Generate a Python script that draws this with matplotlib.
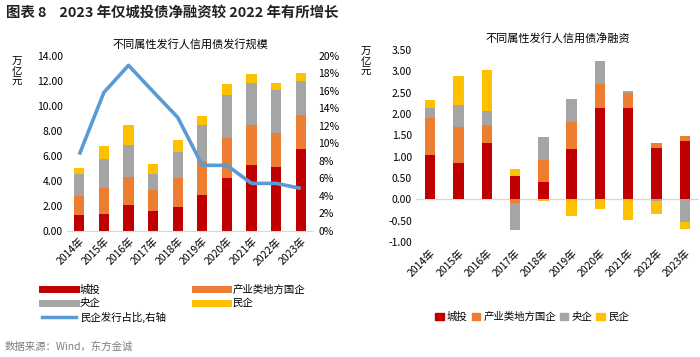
import matplotlib
matplotlib.use("Agg")
import matplotlib.pyplot as plt
from matplotlib.lines import Line2D
from matplotlib.patches import Patch
import matplotlib.ticker as mtick
import numpy as np

plt.rcParams['font.family'] = ['Noto Sans CJK SC', 'DejaVu Sans']

years = ['2014年', '2015年', '2016年', '2017年', '2018年', '2019年', '2020年', '2021年', '2022年', '2023年']
series_names = ['城投', '产业类地方国企', '央企', '民企']
colors = ['#C00000', '#ED7D31', '#A5A5A5', '#FFC000']
line_color = '#5B9BD5'

# Left: issuance scale (万亿元)
issue_chengtou = [1.25, 1.36, 2.08, 1.60, 1.92, 2.85, 4.24, 5.28, 5.09, 6.56]
issue_difang = [1.55, 2.08, 2.19, 1.63, 2.27, 2.72, 3.20, 3.17, 2.70, 2.69]
issue_yangqi = [1.76, 2.29, 2.56, 1.33, 2.13, 2.88, 3.44, 3.36, 3.46, 2.72]
issue_minqi = [0.45, 1.02, 1.62, 0.77, 0.93, 0.72, 0.88, 0.72, 0.59, 0.62]
minqi_share = [8.7, 15.8, 18.9, 15.9, 12.95, 7.47, 7.47, 5.41, 5.41, 4.84]  # %

# Right: net financing (万亿元)
net_chengtou = [1.05, 0.86, 1.33, 0.54, 0.41, 1.18, 2.15, 2.15, 1.20, 1.37]
net_difang = [0.86, 0.84, 0.41, -0.08, 0.52, 0.63, 0.56, 0.35, 0.12, 0.11]
net_yangqi = [0.22, 0.51, 0.33, -0.64, 0.53, 0.53, 0.54, 0.04, -0.04, -0.53]
net_minqi = [0.19, 0.67, 0.96, 0.16, -0.05, -0.38, -0.22, -0.48, -0.31, -0.17]

W, H = 700, 357
fig = plt.figure(figsize=(W / 100, H / 100), dpi=100)

def ax_px(l, t, r, b):
    return fig.add_axes([l / W, 1 - b / H, (r - l) / W, (b - t) / H])

fig.text(6 / W, 1 - 13 / H, '图表 8    2023 年仅城投债净融资较 2022 年有所增长',
         fontsize=10.4, fontweight='bold', va='center', ha='left', color='#222222')

# ---------------- Left chart ----------------
ax1 = ax_px(67, 55.7, 313, 230.7)
x = np.arange(len(years))
bw = 0.42
bottom = np.zeros(len(years))
issue = [issue_chengtou, issue_difang, issue_yangqi, issue_minqi]
for vals, c in zip(issue, colors):
    ax1.bar(x, vals, bw, bottom=bottom, color=c, zorder=2)
    bottom = bottom + np.array(vals)
ax1.set_ylim(0, 14)
ax1.set_xlim(-0.5, len(years) - 0.5)
ax1.set_yticks(np.arange(0, 14.01, 2))
ax1.yaxis.set_major_formatter(mtick.FormatStrFormatter('%.2f'))
ax1.set_xticks(x)
ax1.set_xticklabels(years, rotation=45, ha='right', rotation_mode='anchor', fontsize=7.5)
ax1.tick_params(axis='both', length=0, labelsize=7.5, pad=3)
ax1.tick_params(axis='x', pad=4)
for s in ['top', 'right', 'left']:
    ax1.spines[s].set_visible(False)
ax1.spines['bottom'].set_color('#D9D9D9')
ax1.set_title('不同属性发行人信用债发行规模', fontsize=8, pad=6)

ax1r = ax1.twinx()
ax1r.plot(x, minqi_share, color=line_color, lw=2.6, zorder=3, solid_capstyle='butt')
ax1r.set_ylim(0, 20)
ax1r.set_yticks(np.arange(0, 20.1, 2))
ax1r.yaxis.set_major_formatter(mtick.FuncFormatter(lambda v, p: f'{v:.0f}%'))
ax1r.tick_params(axis='y', length=0, labelsize=7.5, pad=4)
for s in ['top', 'right', 'left', 'bottom']:
    ax1r.spines[s].set_visible(False)

fig.text(17 / W, 1 - 72 / H, '万\n亿\n元', fontsize=7.5, ha='center', va='center', linespacing=0.95)

handles = [Line2D([0], [0], color=colors[0], lw=5),
           Line2D([0], [0], color=colors[2], lw=5),
           Line2D([0], [0], color=line_color, lw=2.5),
           Line2D([0], [0], color=colors[1], lw=5),
           Line2D([0], [0], color=colors[3], lw=5)]
labels = ['城投', '央企', '民企发行占比,右轴', '产业类地方国企', '民企']
fig.legend(handles, labels, loc='upper left', bbox_to_anchor=(33 / W, 1 - 275 / H), ncol=2,
           frameon=False, fontsize=7.5, handlelength=3.2, handletextpad=0.4,
           columnspacing=2.8, labelspacing=0.35)

fig.text(5 / W, 1 - 347 / H, '数据来源：Wind，东方金诚', fontsize=7.5, color='#7F7F7F',
         ha='left', va='center')

# ---------------- Right chart ----------------
ax2 = ax_px(416, 50, 699, 242)
bw2 = 0.37
pos_bottom = np.zeros(len(years))
neg_bottom = np.zeros(len(years))
net = [net_chengtou, net_difang, net_yangqi, net_minqi]
for vals, c in zip(net, colors):
    v = np.array(vals)
    b = np.where(v >= 0, pos_bottom, neg_bottom)
    ax2.bar(x, v, bw2, bottom=b, color=c, zorder=2)
    pos_bottom = pos_bottom + np.where(v >= 0, v, 0)
    neg_bottom = neg_bottom + np.where(v < 0, v, 0)
ax2.axhline(0, color='#D9D9D9', lw=1, zorder=1)
ax2.set_ylim(-1, 3.5)
ax2.set_xlim(-0.5, len(years) - 0.5)
ax2.set_yticks(np.arange(-1, 3.51, 0.5))
ax2.yaxis.set_major_formatter(mtick.FormatStrFormatter('%.2f'))
ax2.set_xticks(x)
ax2.set_xticklabels(years, rotation=45, ha='right', rotation_mode='anchor', fontsize=7.5)
ax2.tick_params(axis='both', length=0, labelsize=7.5, pad=3)
ax2.tick_params(axis='x', pad=4)
for s in ['top', 'right', 'left', 'bottom']:
    ax2.spines[s].set_visible(False)
ax2.set_title('不同属性发行人信用债净融资', fontsize=8, pad=6)

fig.text(366 / W, 1 - 62 / H, '万\n亿\n元', fontsize=7.5, ha='center', va='center', linespacing=0.95)

h2 = [Patch(color=c) for c in colors]
fig.legend(h2, series_names, loc='center', bbox_to_anchor=(532 / W, 1 - 317 / H), ncol=4,
           frameon=False, fontsize=7.5, handlelength=0.8, handleheight=0.8,
           handletextpad=0.3, columnspacing=0.4)

fig.savefig('out.png', dpi=100)
